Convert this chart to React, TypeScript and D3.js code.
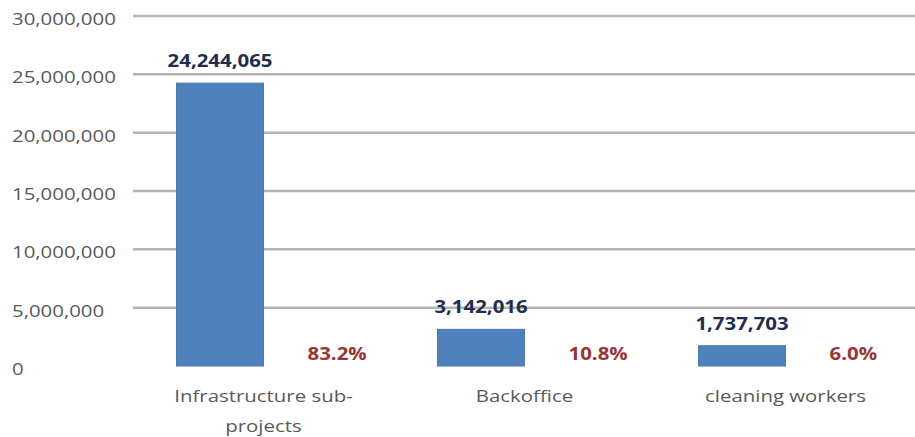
import React from "react";
import * as d3 from "d3";

const categories = ["Infrastructure sub-projects", "Backoffice", "cleaning workers"];
const values = [24244065, 3142016, 1737703];
const percents = ["83.2%", "10.8%", "6.0%"];
const yTicks = [0, 5000000, 10000000, 15000000, 20000000, 25000000, 30000000];

const W = 915;
const H = 437;
const SX = 1.2;
const FONT = "'Open Sans', sans-serif";

function T({ x, y, children, anchor = "start", size = 17, weight = 400, fill = "#595959" }: any) {
  return (
    <text
      transform={`translate(${x},${y}) scale(${SX},1)`}
      textAnchor={anchor}
      fontFamily={FONT}
      fontSize={size}
      fontWeight={weight}
      fill={fill}
    >
      {children}
    </text>
  );
}

function wrap(label: string): string[] {
  if (label.length > 20 && label.includes("-")) {
    const i = label.indexOf("-");
    return [label.slice(0, i + 1), label.slice(i + 1)];
  }
  return [label];
}

export default function App() {
  const y = d3.scaleLinear().domain([0, 30000000]).range([366, 16]);
  const x = d3.scaleBand().domain(categories).range([133, 916]).padding(0);
  const step = x.step();
  const barW = step / 3;
  const fmt = d3.format(",");

  return (
    <svg width={W} height={H} style={{ position: "absolute", left: 0, top: 0, background: "#fff" }}>
      {yTicks.map((t) => (
        <g key={t}>
          {t > 0 && (
            <line x1={133} x2={W} y1={y(t)} y2={y(t)} stroke="#b4b4b4" strokeWidth={2.5} />
          )}
          <T x={12} y={y(t) + 9}>{fmt(t)}</T>
        </g>
      ))}
      {categories.map((c, i) => {
        const cx = (x(c) as number) + step / 2;
        const top = y(values[i]);
        return (
          <g key={c}>
            <rect
              x={cx - barW}
              y={top}
              width={barW}
              height={y(0) - top}
              fill="#4f81bd"
              stroke="#4a78b0"
              strokeWidth={1}
            />
            <T x={cx - barW / 2} y={top - 16} anchor="middle" weight={700} fill="#1f2d4e">
              {fmt(values[i])}
            </T>
            <T x={cx + 44} y={360} weight={700} fill="#953735">
              {percents[i]}
            </T>
            {wrap(c).map((line, j) => (
              <T key={j} x={cx} y={402 + j * 30} anchor="middle">
                {line}
              </T>
            ))}
          </g>
        );
      })}
    </svg>
  );
}
